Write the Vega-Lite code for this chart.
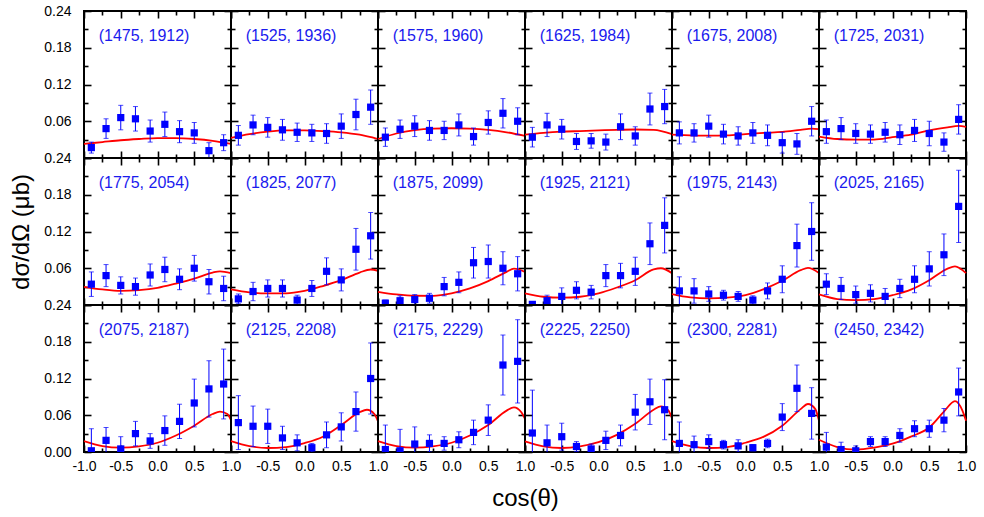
{
"$schema":"https://vega.github.io/schema/vega-lite/v6.json",
"padding":{"left":8,"top":3,"right":5,"bottom":5},
"data":{"values":[
{"p":1,"t":"(1475, 1912)"},{"p":2,"t":"(1525, 1936)"},{"p":3,"t":"(1575, 1960)"},{"p":4,"t":"(1625, 1984)"},{"p":5,"t":"(1675, 2008)"},{"p":6,"t":"(1725, 2031)"},
{"p":7,"t":"(1775, 2054)"},{"p":8,"t":"(1825, 2077)"},{"p":9,"t":"(1875, 2099)"},{"p":10,"t":"(1925, 2121)"},{"p":11,"t":"(1975, 2143)"},{"p":12,"t":"(2025, 2165)"},
{"p":13,"t":"(2075, 2187)"},{"p":14,"t":"(2125, 2208)"},{"p":15,"t":"(2175, 2229)"},{"p":16,"t":"(2225, 2250)"},{"p":17,"t":"(2300, 2281)"},{"p":18,"t":"(2450, 2342)"},
{"p":1,"x":-0.9,"y":0.017,"e":0.009},{"p":1,"x":-0.7,"y":0.048,"e":0.016},{"p":1,"x":-0.5,"y":0.066,"e":0.02},{"p":1,"x":-0.3,"y":0.064,"e":0.02},{"p":1,"x":-0.1,"y":0.044,"e":0.018},{"p":1,"x":0.1,"y":0.055,"e":0.02},{"p":1,"x":0.3,"y":0.043,"e":0.018},{"p":1,"x":0.5,"y":0.041,"e":0.017},{"p":1,"x":0.7,"y":0.012,"e":0.013},{"p":1,"x":0.9,"y":0.025,"e":0.013},
{"p":2,"x":-0.9,"y":0.037,"e":0.016},{"p":2,"x":-0.7,"y":0.054,"e":0.016},{"p":2,"x":-0.5,"y":0.05,"e":0.016},{"p":2,"x":-0.3,"y":0.046,"e":0.017},{"p":2,"x":-0.1,"y":0.042,"e":0.015},{"p":2,"x":0.1,"y":0.041,"e":0.014},{"p":2,"x":0.3,"y":0.04,"e":0.016},{"p":2,"x":0.5,"y":0.052,"e":0.02},{"p":2,"x":0.7,"y":0.071,"e":0.025},{"p":2,"x":0.9,"y":0.083,"e":0.028},
{"p":3,"x":-0.9,"y":0.034,"e":0.015},{"p":3,"x":-0.7,"y":0.047,"e":0.015},{"p":3,"x":-0.5,"y":0.052,"e":0.017},{"p":3,"x":-0.3,"y":0.045,"e":0.016},{"p":3,"x":-0.1,"y":0.045,"e":0.015},{"p":3,"x":0.1,"y":0.054,"e":0.018},{"p":3,"x":0.3,"y":0.035,"e":0.014},{"p":3,"x":0.5,"y":0.058,"e":0.019},{"p":3,"x":0.7,"y":0.073,"e":0.024},{"p":3,"x":0.9,"y":0.06,"e":0.022},
{"p":4,"x":-0.9,"y":0.034,"e":0.016},{"p":4,"x":-0.7,"y":0.054,"e":0.019},{"p":4,"x":-0.5,"y":0.047,"e":0.016},{"p":4,"x":-0.3,"y":0.027,"e":0.013},{"p":4,"x":-0.1,"y":0.028,"e":0.012},{"p":4,"x":0.1,"y":0.026,"e":0.013},{"p":4,"x":0.3,"y":0.051,"e":0.021},{"p":4,"x":0.5,"y":0.036,"e":0.015},{"p":4,"x":0.7,"y":0.08,"e":0.026},{"p":4,"x":0.9,"y":0.084,"e":0.028},
{"p":5,"x":-0.9,"y":0.041,"e":0.018},{"p":5,"x":-0.7,"y":0.041,"e":0.015},{"p":5,"x":-0.5,"y":0.052,"e":0.018},{"p":5,"x":-0.3,"y":0.039,"e":0.016},{"p":5,"x":-0.1,"y":0.036,"e":0.015},{"p":5,"x":0.1,"y":0.041,"e":0.017},{"p":5,"x":0.3,"y":0.037,"e":0.017},{"p":5,"x":0.5,"y":0.025,"e":0.017},{"p":5,"x":0.7,"y":0.023,"e":0.017},{"p":5,"x":0.9,"y":0.06,"e":0.024},
{"p":6,"x":-0.9,"y":0.043,"e":0.019},{"p":6,"x":-0.7,"y":0.048,"e":0.018},{"p":6,"x":-0.5,"y":0.04,"e":0.016},{"p":6,"x":-0.3,"y":0.039,"e":0.015},{"p":6,"x":-0.1,"y":0.042,"e":0.016},{"p":6,"x":0.1,"y":0.038,"e":0.016},{"p":6,"x":0.3,"y":0.045,"e":0.018},{"p":6,"x":0.5,"y":0.04,"e":0.02},{"p":6,"x":0.7,"y":0.026,"e":0.015},{"p":6,"x":0.9,"y":0.063,"e":0.024},
{"p":7,"x":-0.9,"y":0.034,"e":0.02},{"p":7,"x":-0.7,"y":0.048,"e":0.018},{"p":7,"x":-0.5,"y":0.032,"e":0.014},{"p":7,"x":-0.3,"y":0.03,"e":0.014},{"p":7,"x":-0.1,"y":0.049,"e":0.018},{"p":7,"x":0.1,"y":0.058,"e":0.02},{"p":7,"x":0.3,"y":0.042,"e":0.017},{"p":7,"x":0.5,"y":0.06,"e":0.021},{"p":7,"x":0.7,"y":0.038,"e":0.02},{"p":7,"x":0.9,"y":0.027,"e":0.02},
{"p":8,"x":-0.9,"y":0.01,"e":0.008},{"p":8,"x":-0.7,"y":0.022,"e":0.015},{"p":8,"x":-0.5,"y":0.027,"e":0.014},{"p":8,"x":-0.3,"y":0.027,"e":0.014},{"p":8,"x":-0.1,"y":0.008,"e":0.008},{"p":8,"x":0.1,"y":0.027,"e":0.013},{"p":8,"x":0.3,"y":0.055,"e":0.022},{"p":8,"x":0.5,"y":0.041,"e":0.018},{"p":8,"x":0.7,"y":0.091,"e":0.034},{"p":8,"x":0.9,"y":0.113,"e":0.038},
{"p":9,"x":-0.9,"y":0.003,"e":0.005},{"p":9,"x":-0.7,"y":0.007,"e":0.008},{"p":9,"x":-0.5,"y":0.009,"e":0.008},{"p":9,"x":-0.3,"y":0.011,"e":0.008},{"p":9,"x":-0.1,"y":0.03,"e":0.015},{"p":9,"x":0.1,"y":0.037,"e":0.017},{"p":9,"x":0.3,"y":0.069,"e":0.025},{"p":9,"x":0.5,"y":0.071,"e":0.027},{"p":9,"x":0.7,"y":0.06,"e":0.027},{"p":9,"x":0.9,"y":0.051,"e":0.028},
{"p":10,"x":-0.9,"y":0.001,"e":0.004},{"p":10,"x":-0.7,"y":0.007,"e":0.009},{"p":10,"x":-0.5,"y":0.014,"e":0.014},{"p":10,"x":-0.3,"y":0.024,"e":0.014},{"p":10,"x":-0.1,"y":0.021,"e":0.011},{"p":10,"x":0.1,"y":0.048,"e":0.018},{"p":10,"x":0.3,"y":0.048,"e":0.02},{"p":10,"x":0.5,"y":0.055,"e":0.023},{"p":10,"x":0.7,"y":0.1,"e":0.034},{"p":10,"x":0.9,"y":0.13,"e":0.045},
{"p":11,"x":-0.9,"y":0.023,"e":0.023},{"p":11,"x":-0.7,"y":0.023,"e":0.02},{"p":11,"x":-0.5,"y":0.018,"e":0.012},{"p":11,"x":-0.3,"y":0.016,"e":0.008},{"p":11,"x":-0.1,"y":0.014,"e":0.008},{"p":11,"x":0.1,"y":0.008,"e":0.007},{"p":11,"x":0.3,"y":0.023,"e":0.013},{"p":11,"x":0.5,"y":0.042,"e":0.022},{"p":11,"x":0.7,"y":0.097,"e":0.035},{"p":11,"x":0.9,"y":0.12,"e":0.047},
{"p":12,"x":-0.9,"y":0.034,"e":0.017},{"p":12,"x":-0.7,"y":0.027,"e":0.018},{"p":12,"x":-0.5,"y":0.017,"e":0.014},{"p":12,"x":-0.3,"y":0.019,"e":0.014},{"p":12,"x":-0.1,"y":0.014,"e":0.013},{"p":12,"x":0.1,"y":0.027,"e":0.015},{"p":12,"x":0.3,"y":0.042,"e":0.022},{"p":12,"x":0.5,"y":0.059,"e":0.028},{"p":12,"x":0.7,"y":0.082,"e":0.034},{"p":12,"x":0.9,"y":0.161,"e":0.059},
{"p":13,"x":-0.9,"y":0.002,"e":0.036},{"p":13,"x":-0.7,"y":0.019,"e":0.021},{"p":13,"x":-0.5,"y":0.005,"e":0.02},{"p":13,"x":-0.3,"y":0.03,"e":0.02},{"p":13,"x":-0.1,"y":0.018,"e":0.012},{"p":13,"x":0.1,"y":0.035,"e":0.024},{"p":13,"x":0.3,"y":0.05,"e":0.028},{"p":13,"x":0.5,"y":0.08,"e":0.039},{"p":13,"x":0.7,"y":0.103,"e":0.046},{"p":13,"x":0.9,"y":0.111,"e":0.057},
{"p":14,"x":-0.9,"y":0.048,"e":0.044},{"p":14,"x":-0.7,"y":0.042,"e":0.033},{"p":14,"x":-0.5,"y":0.042,"e":0.028},{"p":14,"x":-0.3,"y":0.023,"e":0.019},{"p":14,"x":-0.1,"y":0.015,"e":0.013},{"p":14,"x":0.1,"y":0.007,"e":0.007},{"p":14,"x":0.3,"y":0.028,"e":0.021},{"p":14,"x":0.5,"y":0.041,"e":0.023},{"p":14,"x":0.7,"y":0.066,"e":0.032},{"p":14,"x":0.9,"y":0.12,"e":0.058},
{"p":15,"x":-0.9,"y":0.004,"e":0.04},{"p":15,"x":-0.7,"y":0.002,"e":0.035},{"p":15,"x":-0.5,"y":0.013,"e":0.028},{"p":15,"x":-0.3,"y":0.014,"e":0.014},{"p":15,"x":-0.1,"y":0.014,"e":0.011},{"p":15,"x":0.1,"y":0.02,"e":0.013},{"p":15,"x":0.3,"y":0.032,"e":0.02},{"p":15,"x":0.5,"y":0.052,"e":0.025},{"p":15,"x":0.7,"y":0.142,"e":0.049},{"p":15,"x":0.9,"y":0.148,"e":0.068},
{"p":16,"x":-0.9,"y":0.031,"e":0.07},{"p":16,"x":-0.7,"y":0.015,"e":0.029},{"p":16,"x":-0.5,"y":0.025,"e":0.022},{"p":16,"x":-0.3,"y":0.009,"e":0.008},{"p":16,"x":-0.1,"y":0.005,"e":0.008},{"p":16,"x":0.1,"y":0.019,"e":0.015},{"p":16,"x":0.3,"y":0.027,"e":0.017},{"p":16,"x":0.5,"y":0.065,"e":0.029},{"p":16,"x":0.7,"y":0.082,"e":0.037},{"p":16,"x":0.9,"y":0.069,"e":0.049},
{"p":17,"x":-0.9,"y":0.014,"e":0.035},{"p":17,"x":-0.7,"y":0.012,"e":0.014},{"p":17,"x":-0.5,"y":0.017,"e":0.011},{"p":17,"x":-0.3,"y":0.012,"e":0.007},{"p":17,"x":-0.1,"y":0.01,"e":0.01},{"p":17,"x":0.1,"y":0.007,"e":0.005},{"p":17,"x":0.3,"y":0.014,"e":0.007},{"p":17,"x":0.5,"y":0.057,"e":0.022},{"p":17,"x":0.7,"y":0.104,"e":0.038},{"p":17,"x":0.9,"y":0.063,"e":0.042},
{"p":18,"x":-0.9,"y":0.008,"e":0.024},{"p":18,"x":-0.7,"y":0.004,"e":0.012},{"p":18,"x":-0.5,"y":0.002,"e":0.008},{"p":18,"x":-0.3,"y":0.017,"e":0.008},{"p":18,"x":-0.1,"y":0.017,"e":0.008},{"p":18,"x":0.1,"y":0.027,"e":0.011},{"p":18,"x":0.3,"y":0.038,"e":0.013},{"p":18,"x":0.5,"y":0.038,"e":0.014},{"p":18,"x":0.7,"y":0.052,"e":0.019},{"p":18,"x":0.9,"y":0.098,"e":0.039},
{"p":1,"x":-1,"c":0.023},{"p":1,"x":-0.75,"c":0.026},{"p":1,"x":-0.5,"c":0.029},{"p":1,"x":-0.25,"c":0.031},{"p":1,"x":0,"c":0.0325},{"p":1,"x":0.25,"c":0.0325},{"p":1,"x":0.5,"c":0.031},{"p":1,"x":0.75,"c":0.028},{"p":1,"x":1,"c":0.023},
{"p":2,"x":-1,"c":0.033},{"p":2,"x":-0.75,"c":0.039},{"p":2,"x":-0.5,"c":0.043},{"p":2,"x":-0.25,"c":0.045},{"p":2,"x":0,"c":0.045},{"p":2,"x":0.25,"c":0.044},{"p":2,"x":0.5,"c":0.042},{"p":2,"x":0.75,"c":0.038},{"p":2,"x":1,"c":0.031},
{"p":3,"x":-1,"c":0.031},{"p":3,"x":-0.75,"c":0.04},{"p":3,"x":-0.5,"c":0.0455},{"p":3,"x":-0.25,"c":0.048},{"p":3,"x":0,"c":0.0486},{"p":3,"x":0.25,"c":0.048},{"p":3,"x":0.5,"c":0.046},{"p":3,"x":0.75,"c":0.042},{"p":3,"x":1,"c":0.036},
{"p":4,"x":-1,"c":0.038},{"p":4,"x":-0.75,"c":0.041},{"p":4,"x":-0.5,"c":0.043},{"p":4,"x":-0.25,"c":0.044},{"p":4,"x":0,"c":0.045},{"p":4,"x":0.25,"c":0.046},{"p":4,"x":0.5,"c":0.0465},{"p":4,"x":0.75,"c":0.046},{"p":4,"x":1,"c":0.039},
{"p":5,"x":-1,"c":0.038},{"p":5,"x":-0.75,"c":0.037},{"p":5,"x":-0.5,"c":0.0365},{"p":5,"x":-0.25,"c":0.037},{"p":5,"x":0,"c":0.039},{"p":5,"x":0.25,"c":0.041},{"p":5,"x":0.5,"c":0.0425},{"p":5,"x":0.75,"c":0.046},{"p":5,"x":0.9,"c":0.048},{"p":5,"x":1,"c":0.047},
{"p":6,"x":-1,"c":0.035},{"p":6,"x":-0.75,"c":0.031},{"p":6,"x":-0.5,"c":0.03},{"p":6,"x":-0.25,"c":0.03},{"p":6,"x":0,"c":0.034},{"p":6,"x":0.25,"c":0.038},{"p":6,"x":0.5,"c":0.045},{"p":6,"x":0.75,"c":0.05},{"p":6,"x":0.9,"c":0.0524},{"p":6,"x":1,"c":0.051},
{"p":7,"x":-1,"c":0.0297},{"p":7,"x":-0.75,"c":0.0254},{"p":7,"x":-0.5,"c":0.023},{"p":7,"x":-0.25,"c":0.0243},{"p":7,"x":0,"c":0.028},{"p":7,"x":0.25,"c":0.035},{"p":7,"x":0.5,"c":0.043},{"p":7,"x":0.75,"c":0.053},{"p":7,"x":0.85,"c":0.055},{"p":7,"x":1,"c":0.052},
{"p":8,"x":-1,"c":0.0254},{"p":8,"x":-0.75,"c":0.0205},{"p":8,"x":-0.5,"c":0.019},{"p":8,"x":-0.25,"c":0.019},{"p":8,"x":0,"c":0.023},{"p":8,"x":0.25,"c":0.031},{"p":8,"x":0.5,"c":0.0405},{"p":8,"x":0.75,"c":0.053},{"p":8,"x":0.9,"c":0.058},{"p":8,"x":1,"c":0.0557},
{"p":9,"x":-1,"c":0.0216},{"p":9,"x":-0.75,"c":0.0173},{"p":9,"x":-0.5,"c":0.0151},{"p":9,"x":-0.25,"c":0.015},{"p":9,"x":0,"c":0.019},{"p":9,"x":0.25,"c":0.027},{"p":9,"x":0.5,"c":0.039},{"p":9,"x":0.75,"c":0.054},{"p":9,"x":0.85,"c":0.0595},{"p":9,"x":1,"c":0.054},
{"p":10,"x":-1,"c":0.019},{"p":10,"x":-0.75,"c":0.0135},{"p":10,"x":-0.5,"c":0.0119},{"p":10,"x":-0.25,"c":0.0135},{"p":10,"x":0,"c":0.019},{"p":10,"x":0.25,"c":0.0286},{"p":10,"x":0.5,"c":0.0405},{"p":10,"x":0.75,"c":0.058},{"p":10,"x":0.85,"c":0.06},{"p":10,"x":1,"c":0.052},
{"p":11,"x":-1,"c":0.0178},{"p":11,"x":-0.75,"c":0.0124},{"p":11,"x":-0.5,"c":0.0108},{"p":11,"x":-0.25,"c":0.0119},{"p":11,"x":0,"c":0.016},{"p":11,"x":0.25,"c":0.026},{"p":11,"x":0.5,"c":0.0395},{"p":11,"x":0.75,"c":0.0568},{"p":11,"x":0.85,"c":0.0605},{"p":11,"x":1,"c":0.0524},
{"p":12,"x":-1,"c":0.0173},{"p":12,"x":-0.75,"c":0.0097},{"p":12,"x":-0.5,"c":0.008},{"p":12,"x":-0.25,"c":0.0097},{"p":12,"x":0,"c":0.016},{"p":12,"x":0.25,"c":0.025},{"p":12,"x":0.5,"c":0.0405},{"p":12,"x":0.75,"c":0.0595},{"p":12,"x":0.85,"c":0.063},{"p":12,"x":1,"c":0.052},
{"p":13,"x":-1,"c":0.0178},{"p":13,"x":-0.75,"c":0.0097},{"p":13,"x":-0.5,"c":0.007},{"p":13,"x":-0.25,"c":0.0092},{"p":13,"x":0,"c":0.0151},{"p":13,"x":0.25,"c":0.027},{"p":13,"x":0.5,"c":0.043},{"p":13,"x":0.75,"c":0.062},{"p":13,"x":0.85,"c":0.066},{"p":13,"x":0.95,"c":0.062},{"p":13,"x":1,"c":0.052},
{"p":14,"x":-1,"c":0.0178},{"p":14,"x":-0.75,"c":0.0097},{"p":14,"x":-0.5,"c":0.0065},{"p":14,"x":-0.25,"c":0.008},{"p":14,"x":0,"c":0.0146},{"p":14,"x":0.25,"c":0.025},{"p":14,"x":0.5,"c":0.044},{"p":14,"x":0.75,"c":0.065},{"p":14,"x":0.85,"c":0.069},{"p":14,"x":0.95,"c":0.062},{"p":14,"x":1,"c":0.05},
{"p":15,"x":-1,"c":0.0178},{"p":15,"x":-0.75,"c":0.0097},{"p":15,"x":-0.5,"c":0.007},{"p":15,"x":-0.25,"c":0.0092},{"p":15,"x":0,"c":0.0151},{"p":15,"x":0.25,"c":0.027},{"p":15,"x":0.5,"c":0.044},{"p":15,"x":0.75,"c":0.0676},{"p":15,"x":0.85,"c":0.073},{"p":15,"x":0.95,"c":0.065},{"p":15,"x":1,"c":0.054},
{"p":16,"x":-1,"c":0.0173},{"p":16,"x":-0.75,"c":0.0092},{"p":16,"x":-0.5,"c":0.0065},{"p":16,"x":-0.25,"c":0.0092},{"p":16,"x":0,"c":0.016},{"p":16,"x":0.25,"c":0.028},{"p":16,"x":0.5,"c":0.046},{"p":16,"x":0.75,"c":0.069},{"p":16,"x":0.85,"c":0.0746},{"p":16,"x":0.95,"c":0.068},{"p":16,"x":1,"c":0.055},
{"p":17,"x":-1,"c":0.0178},{"p":17,"x":-0.75,"c":0.0097},{"p":17,"x":-0.5,"c":0.0065},{"p":17,"x":-0.25,"c":0.008},{"p":17,"x":0,"c":0.0151},{"p":17,"x":0.25,"c":0.025},{"p":17,"x":0.5,"c":0.043},{"p":17,"x":0.75,"c":0.07},{"p":17,"x":0.85,"c":0.0784},{"p":17,"x":0.95,"c":0.07},{"p":17,"x":1,"c":0.051},
{"p":18,"x":-1,"c":0.02},{"p":18,"x":-0.75,"c":0.008},{"p":18,"x":-0.5,"c":0.0038},{"p":18,"x":-0.25,"c":0.007},{"p":18,"x":0,"c":0.0135},{"p":18,"x":0.25,"c":0.025},{"p":18,"x":0.5,"c":0.04},{"p":18,"x":0.7,"c":0.066},{"p":18,"x":0.85,"c":0.083},{"p":18,"x":0.95,"c":0.068},{"p":18,"x":1,"c":0.051}
]},
"columns":6,"spacing":0,"bounds":"flush","align":"all",
"concat":[
{"transform":[{"filter":"datum.p==1"}],"resolve":{"axis":{"x":"independent","y":"independent"}},"layer":[
{"mark":"line","encoding":{"x":{"field":"x","type":"quantitative","scale":{"domain":[-1,1],"nice":false},"axis":{"values":[-1,-0.75,-0.5,-0.25,0,0.25,0.5,0.75,1],"labels":false,"title":null}},"y":{"field":"c","type":"quantitative","scale":{"domain":[0,0.24],"nice":false},"axis":{"values":[0,0.03,0.06,0.09,0.12,0.15,0.18,0.21,0.24],"title":null,"labelExpr":"round(datum.value*100)%6==0 && datum.value>0 ? format(datum.value,'.2f') : ''"}}}},
{"mark":{"type":"errorbar","clip":true},"encoding":{"x":{"field":"x","type":"quantitative","axis":null},"y":{"field":"y","type":"quantitative","axis":null},"yError":{"field":"e"}}},
{"mark":{"type":"square","clip":true},"encoding":{"x":{"field":"x","type":"quantitative","axis":{"orient":"top","values":[-1,-0.75,-0.5,-0.25,0,0.25,0.5,0.75,1],"labels":false,"title":null}},"y":{"field":"y","type":"quantitative","axis":{"orient":"right","values":[0,0.03,0.06,0.09,0.12,0.15,0.18,0.21,0.24],"labels":false,"title":null}}}},
{"mark":"text","transform":[{"filter":"datum.t"}],"encoding":{"x":{"datum":-0.8,"axis":null},"y":{"datum":0.2,"axis":null},"text":{"field":"t"}}}]},
{"transform":[{"filter":"datum.p==2"}],"resolve":{"axis":{"x":"independent","y":"independent"}},"layer":[
{"mark":"line","encoding":{"x":{"field":"x","type":"quantitative","scale":{"domain":[-1,1],"nice":false},"axis":{"values":[-1,-0.75,-0.5,-0.25,0,0.25,0.5,0.75,1],"labels":false,"title":null}},"y":{"field":"c","type":"quantitative","scale":{"domain":[0,0.24],"nice":false},"axis":{"values":[0,0.03,0.06,0.09,0.12,0.15,0.18,0.21,0.24],"labels":false,"title":null}}}},
{"mark":{"type":"errorbar","clip":true},"encoding":{"x":{"field":"x","type":"quantitative","axis":null},"y":{"field":"y","type":"quantitative","axis":null},"yError":{"field":"e"}}},
{"mark":{"type":"square","clip":true},"encoding":{"x":{"field":"x","type":"quantitative","axis":{"orient":"top","values":[-1,-0.75,-0.5,-0.25,0,0.25,0.5,0.75,1],"labels":false,"title":null}},"y":{"field":"y","type":"quantitative","axis":{"orient":"right","values":[0,0.03,0.06,0.09,0.12,0.15,0.18,0.21,0.24],"labels":false,"title":null}}}},
{"mark":"text","transform":[{"filter":"datum.t"}],"encoding":{"x":{"datum":-0.8,"axis":null},"y":{"datum":0.2,"axis":null},"text":{"field":"t"}}}]},
{"transform":[{"filter":"datum.p==3"}],"resolve":{"axis":{"x":"independent","y":"independent"}},"layer":[
{"mark":"line","encoding":{"x":{"field":"x","type":"quantitative","scale":{"domain":[-1,1],"nice":false},"axis":{"values":[-1,-0.75,-0.5,-0.25,0,0.25,0.5,0.75,1],"labels":false,"title":null}},"y":{"field":"c","type":"quantitative","scale":{"domain":[0,0.24],"nice":false},"axis":{"values":[0,0.03,0.06,0.09,0.12,0.15,0.18,0.21,0.24],"labels":false,"title":null}}}},
{"mark":{"type":"errorbar","clip":true},"encoding":{"x":{"field":"x","type":"quantitative","axis":null},"y":{"field":"y","type":"quantitative","axis":null},"yError":{"field":"e"}}},
{"mark":{"type":"square","clip":true},"encoding":{"x":{"field":"x","type":"quantitative","axis":{"orient":"top","values":[-1,-0.75,-0.5,-0.25,0,0.25,0.5,0.75,1],"labels":false,"title":null}},"y":{"field":"y","type":"quantitative","axis":{"orient":"right","values":[0,0.03,0.06,0.09,0.12,0.15,0.18,0.21,0.24],"labels":false,"title":null}}}},
{"mark":"text","transform":[{"filter":"datum.t"}],"encoding":{"x":{"datum":-0.8,"axis":null},"y":{"datum":0.2,"axis":null},"text":{"field":"t"}}}]},
{"transform":[{"filter":"datum.p==4"}],"resolve":{"axis":{"x":"independent","y":"independent"}},"layer":[
{"mark":"line","encoding":{"x":{"field":"x","type":"quantitative","scale":{"domain":[-1,1],"nice":false},"axis":{"values":[-1,-0.75,-0.5,-0.25,0,0.25,0.5,0.75,1],"labels":false,"title":null}},"y":{"field":"c","type":"quantitative","scale":{"domain":[0,0.24],"nice":false},"axis":{"values":[0,0.03,0.06,0.09,0.12,0.15,0.18,0.21,0.24],"labels":false,"title":null}}}},
{"mark":{"type":"errorbar","clip":true},"encoding":{"x":{"field":"x","type":"quantitative","axis":null},"y":{"field":"y","type":"quantitative","axis":null},"yError":{"field":"e"}}},
{"mark":{"type":"square","clip":true},"encoding":{"x":{"field":"x","type":"quantitative","axis":{"orient":"top","values":[-1,-0.75,-0.5,-0.25,0,0.25,0.5,0.75,1],"labels":false,"title":null}},"y":{"field":"y","type":"quantitative","axis":{"orient":"right","values":[0,0.03,0.06,0.09,0.12,0.15,0.18,0.21,0.24],"labels":false,"title":null}}}},
{"mark":"text","transform":[{"filter":"datum.t"}],"encoding":{"x":{"datum":-0.8,"axis":null},"y":{"datum":0.2,"axis":null},"text":{"field":"t"}}}]},
{"transform":[{"filter":"datum.p==5"}],"resolve":{"axis":{"x":"independent","y":"independent"}},"layer":[
{"mark":"line","encoding":{"x":{"field":"x","type":"quantitative","scale":{"domain":[-1,1],"nice":false},"axis":{"values":[-1,-0.75,-0.5,-0.25,0,0.25,0.5,0.75,1],"labels":false,"title":null}},"y":{"field":"c","type":"quantitative","scale":{"domain":[0,0.24],"nice":false},"axis":{"values":[0,0.03,0.06,0.09,0.12,0.15,0.18,0.21,0.24],"labels":false,"title":null}}}},
{"mark":{"type":"errorbar","clip":true},"encoding":{"x":{"field":"x","type":"quantitative","axis":null},"y":{"field":"y","type":"quantitative","axis":null},"yError":{"field":"e"}}},
{"mark":{"type":"square","clip":true},"encoding":{"x":{"field":"x","type":"quantitative","axis":{"orient":"top","values":[-1,-0.75,-0.5,-0.25,0,0.25,0.5,0.75,1],"labels":false,"title":null}},"y":{"field":"y","type":"quantitative","axis":{"orient":"right","values":[0,0.03,0.06,0.09,0.12,0.15,0.18,0.21,0.24],"labels":false,"title":null}}}},
{"mark":"text","transform":[{"filter":"datum.t"}],"encoding":{"x":{"datum":-0.8,"axis":null},"y":{"datum":0.2,"axis":null},"text":{"field":"t"}}}]},
{"transform":[{"filter":"datum.p==6"}],"resolve":{"axis":{"x":"independent","y":"independent"}},"layer":[
{"mark":"line","encoding":{"x":{"field":"x","type":"quantitative","scale":{"domain":[-1,1],"nice":false},"axis":{"values":[-1,-0.75,-0.5,-0.25,0,0.25,0.5,0.75,1],"labels":false,"title":null}},"y":{"field":"c","type":"quantitative","scale":{"domain":[0,0.24],"nice":false},"axis":{"values":[0,0.03,0.06,0.09,0.12,0.15,0.18,0.21,0.24],"labels":false,"title":null}}}},
{"mark":{"type":"errorbar","clip":true},"encoding":{"x":{"field":"x","type":"quantitative","axis":null},"y":{"field":"y","type":"quantitative","axis":null},"yError":{"field":"e"}}},
{"mark":{"type":"square","clip":true},"encoding":{"x":{"field":"x","type":"quantitative","axis":{"orient":"top","values":[-1,-0.75,-0.5,-0.25,0,0.25,0.5,0.75,1],"labels":false,"title":null}},"y":{"field":"y","type":"quantitative","axis":{"orient":"right","values":[0,0.03,0.06,0.09,0.12,0.15,0.18,0.21,0.24],"labels":false,"title":null}}}},
{"mark":"text","transform":[{"filter":"datum.t"}],"encoding":{"x":{"datum":-0.8,"axis":null},"y":{"datum":0.2,"axis":null},"text":{"field":"t"}}}]},
{"transform":[{"filter":"datum.p==7"}],"resolve":{"axis":{"x":"independent","y":"independent"}},"layer":[
{"mark":"line","encoding":{"x":{"field":"x","type":"quantitative","scale":{"domain":[-1,1],"nice":false},"axis":{"values":[-1,-0.75,-0.5,-0.25,0,0.25,0.5,0.75,1],"labels":false,"title":null}},"y":{"field":"c","type":"quantitative","scale":{"domain":[0,0.24],"nice":false},"axis":{"values":[0,0.03,0.06,0.09,0.12,0.15,0.18,0.21,0.24],"title":"dσ/dΩ (μb)","titlePadding":10,"labelExpr":"round(datum.value*100)%6==0 && datum.value>0 ? format(datum.value,'.2f') : ''"}}}},
{"mark":{"type":"errorbar","clip":true},"encoding":{"x":{"field":"x","type":"quantitative","axis":null},"y":{"field":"y","type":"quantitative","axis":null},"yError":{"field":"e"}}},
{"mark":{"type":"square","clip":true},"encoding":{"x":{"field":"x","type":"quantitative","axis":{"orient":"top","values":[-1,-0.75,-0.5,-0.25,0,0.25,0.5,0.75,1],"labels":false,"title":null}},"y":{"field":"y","type":"quantitative","axis":{"orient":"right","values":[0,0.03,0.06,0.09,0.12,0.15,0.18,0.21,0.24],"labels":false,"title":null}}}},
{"mark":"text","transform":[{"filter":"datum.t"}],"encoding":{"x":{"datum":-0.8,"axis":null},"y":{"datum":0.2,"axis":null},"text":{"field":"t"}}}]},
{"transform":[{"filter":"datum.p==8"}],"resolve":{"axis":{"x":"independent","y":"independent"}},"layer":[
{"mark":"line","encoding":{"x":{"field":"x","type":"quantitative","scale":{"domain":[-1,1],"nice":false},"axis":{"values":[-1,-0.75,-0.5,-0.25,0,0.25,0.5,0.75,1],"labels":false,"title":null}},"y":{"field":"c","type":"quantitative","scale":{"domain":[0,0.24],"nice":false},"axis":{"values":[0,0.03,0.06,0.09,0.12,0.15,0.18,0.21,0.24],"labels":false,"title":null}}}},
{"mark":{"type":"errorbar","clip":true},"encoding":{"x":{"field":"x","type":"quantitative","axis":null},"y":{"field":"y","type":"quantitative","axis":null},"yError":{"field":"e"}}},
{"mark":{"type":"square","clip":true},"encoding":{"x":{"field":"x","type":"quantitative","axis":{"orient":"top","values":[-1,-0.75,-0.5,-0.25,0,0.25,0.5,0.75,1],"labels":false,"title":null}},"y":{"field":"y","type":"quantitative","axis":{"orient":"right","values":[0,0.03,0.06,0.09,0.12,0.15,0.18,0.21,0.24],"labels":false,"title":null}}}},
{"mark":"text","transform":[{"filter":"datum.t"}],"encoding":{"x":{"datum":-0.8,"axis":null},"y":{"datum":0.2,"axis":null},"text":{"field":"t"}}}]},
{"transform":[{"filter":"datum.p==9"}],"resolve":{"axis":{"x":"independent","y":"independent"}},"layer":[
{"mark":"line","encoding":{"x":{"field":"x","type":"quantitative","scale":{"domain":[-1,1],"nice":false},"axis":{"values":[-1,-0.75,-0.5,-0.25,0,0.25,0.5,0.75,1],"labels":false,"title":null}},"y":{"field":"c","type":"quantitative","scale":{"domain":[0,0.24],"nice":false},"axis":{"values":[0,0.03,0.06,0.09,0.12,0.15,0.18,0.21,0.24],"labels":false,"title":null}}}},
{"mark":{"type":"errorbar","clip":true},"encoding":{"x":{"field":"x","type":"quantitative","axis":null},"y":{"field":"y","type":"quantitative","axis":null},"yError":{"field":"e"}}},
{"mark":{"type":"square","clip":true},"encoding":{"x":{"field":"x","type":"quantitative","axis":{"orient":"top","values":[-1,-0.75,-0.5,-0.25,0,0.25,0.5,0.75,1],"labels":false,"title":null}},"y":{"field":"y","type":"quantitative","axis":{"orient":"right","values":[0,0.03,0.06,0.09,0.12,0.15,0.18,0.21,0.24],"labels":false,"title":null}}}},
{"mark":"text","transform":[{"filter":"datum.t"}],"encoding":{"x":{"datum":-0.8,"axis":null},"y":{"datum":0.2,"axis":null},"text":{"field":"t"}}}]},
{"transform":[{"filter":"datum.p==10"}],"resolve":{"axis":{"x":"independent","y":"independent"}},"layer":[
{"mark":"line","encoding":{"x":{"field":"x","type":"quantitative","scale":{"domain":[-1,1],"nice":false},"axis":{"values":[-1,-0.75,-0.5,-0.25,0,0.25,0.5,0.75,1],"labels":false,"title":null}},"y":{"field":"c","type":"quantitative","scale":{"domain":[0,0.24],"nice":false},"axis":{"values":[0,0.03,0.06,0.09,0.12,0.15,0.18,0.21,0.24],"labels":false,"title":null}}}},
{"mark":{"type":"errorbar","clip":true},"encoding":{"x":{"field":"x","type":"quantitative","axis":null},"y":{"field":"y","type":"quantitative","axis":null},"yError":{"field":"e"}}},
{"mark":{"type":"square","clip":true},"encoding":{"x":{"field":"x","type":"quantitative","axis":{"orient":"top","values":[-1,-0.75,-0.5,-0.25,0,0.25,0.5,0.75,1],"labels":false,"title":null}},"y":{"field":"y","type":"quantitative","axis":{"orient":"right","values":[0,0.03,0.06,0.09,0.12,0.15,0.18,0.21,0.24],"labels":false,"title":null}}}},
{"mark":"text","transform":[{"filter":"datum.t"}],"encoding":{"x":{"datum":-0.8,"axis":null},"y":{"datum":0.2,"axis":null},"text":{"field":"t"}}}]},
{"transform":[{"filter":"datum.p==11"}],"resolve":{"axis":{"x":"independent","y":"independent"}},"layer":[
{"mark":"line","encoding":{"x":{"field":"x","type":"quantitative","scale":{"domain":[-1,1],"nice":false},"axis":{"values":[-1,-0.75,-0.5,-0.25,0,0.25,0.5,0.75,1],"labels":false,"title":null}},"y":{"field":"c","type":"quantitative","scale":{"domain":[0,0.24],"nice":false},"axis":{"values":[0,0.03,0.06,0.09,0.12,0.15,0.18,0.21,0.24],"labels":false,"title":null}}}},
{"mark":{"type":"errorbar","clip":true},"encoding":{"x":{"field":"x","type":"quantitative","axis":null},"y":{"field":"y","type":"quantitative","axis":null},"yError":{"field":"e"}}},
{"mark":{"type":"square","clip":true},"encoding":{"x":{"field":"x","type":"quantitative","axis":{"orient":"top","values":[-1,-0.75,-0.5,-0.25,0,0.25,0.5,0.75,1],"labels":false,"title":null}},"y":{"field":"y","type":"quantitative","axis":{"orient":"right","values":[0,0.03,0.06,0.09,0.12,0.15,0.18,0.21,0.24],"labels":false,"title":null}}}},
{"mark":"text","transform":[{"filter":"datum.t"}],"encoding":{"x":{"datum":-0.8,"axis":null},"y":{"datum":0.2,"axis":null},"text":{"field":"t"}}}]},
{"transform":[{"filter":"datum.p==12"}],"resolve":{"axis":{"x":"independent","y":"independent"}},"layer":[
{"mark":"line","encoding":{"x":{"field":"x","type":"quantitative","scale":{"domain":[-1,1],"nice":false},"axis":{"values":[-1,-0.75,-0.5,-0.25,0,0.25,0.5,0.75,1],"labels":false,"title":null}},"y":{"field":"c","type":"quantitative","scale":{"domain":[0,0.24],"nice":false},"axis":{"values":[0,0.03,0.06,0.09,0.12,0.15,0.18,0.21,0.24],"labels":false,"title":null}}}},
{"mark":{"type":"errorbar","clip":true},"encoding":{"x":{"field":"x","type":"quantitative","axis":null},"y":{"field":"y","type":"quantitative","axis":null},"yError":{"field":"e"}}},
{"mark":{"type":"square","clip":true},"encoding":{"x":{"field":"x","type":"quantitative","axis":{"orient":"top","values":[-1,-0.75,-0.5,-0.25,0,0.25,0.5,0.75,1],"labels":false,"title":null}},"y":{"field":"y","type":"quantitative","axis":{"orient":"right","values":[0,0.03,0.06,0.09,0.12,0.15,0.18,0.21,0.24],"labels":false,"title":null}}}},
{"mark":"text","transform":[{"filter":"datum.t"}],"encoding":{"x":{"datum":-0.8,"axis":null},"y":{"datum":0.2,"axis":null},"text":{"field":"t"}}}]},
{"transform":[{"filter":"datum.p==13"}],"resolve":{"axis":{"x":"independent","y":"independent"}},"layer":[
{"mark":"line","encoding":{"x":{"field":"x","type":"quantitative","scale":{"domain":[-1,1],"nice":false},"axis":{"values":[-1,-0.75,-0.5,-0.25,0,0.25,0.5,0.75,1],"title":null,"labelExpr":"round(datum.value*4)%2==0 ? replace(format(datum.value,'.1f'),'\u2212','-') : ''"}},"y":{"field":"c","type":"quantitative","scale":{"domain":[0,0.24],"nice":false},"axis":{"values":[0,0.03,0.06,0.09,0.12,0.15,0.18,0.21,0.24],"title":null,"labelExpr":"round(datum.value*100)%6==0 ? format(datum.value,'.2f') : ''"}}}},
{"mark":{"type":"errorbar","clip":true},"encoding":{"x":{"field":"x","type":"quantitative","axis":null},"y":{"field":"y","type":"quantitative","axis":null},"yError":{"field":"e"}}},
{"mark":{"type":"square","clip":true},"encoding":{"x":{"field":"x","type":"quantitative","axis":{"orient":"top","values":[-1,-0.75,-0.5,-0.25,0,0.25,0.5,0.75,1],"labels":false,"title":null}},"y":{"field":"y","type":"quantitative","axis":{"orient":"right","values":[0,0.03,0.06,0.09,0.12,0.15,0.18,0.21,0.24],"labels":false,"title":null}}}},
{"mark":"text","transform":[{"filter":"datum.t"}],"encoding":{"x":{"datum":-0.8,"axis":null},"y":{"datum":0.2,"axis":null},"text":{"field":"t"}}}]},
{"transform":[{"filter":"datum.p==14"}],"resolve":{"axis":{"x":"independent","y":"independent"}},"layer":[
{"mark":"line","encoding":{"x":{"field":"x","type":"quantitative","scale":{"domain":[-1,1],"nice":false},"axis":{"values":[-1,-0.75,-0.5,-0.25,0,0.25,0.5,0.75,1],"title":null,"labelExpr":"round(datum.value*4)%2==0 && datum.value>-1 ? replace(format(datum.value,'.1f'),'\u2212','-') : ''"}},"y":{"field":"c","type":"quantitative","scale":{"domain":[0,0.24],"nice":false},"axis":{"values":[0,0.03,0.06,0.09,0.12,0.15,0.18,0.21,0.24],"labels":false,"title":null}}}},
{"mark":{"type":"errorbar","clip":true},"encoding":{"x":{"field":"x","type":"quantitative","axis":null},"y":{"field":"y","type":"quantitative","axis":null},"yError":{"field":"e"}}},
{"mark":{"type":"square","clip":true},"encoding":{"x":{"field":"x","type":"quantitative","axis":{"orient":"top","values":[-1,-0.75,-0.5,-0.25,0,0.25,0.5,0.75,1],"labels":false,"title":null}},"y":{"field":"y","type":"quantitative","axis":{"orient":"right","values":[0,0.03,0.06,0.09,0.12,0.15,0.18,0.21,0.24],"labels":false,"title":null}}}},
{"mark":"text","transform":[{"filter":"datum.t"}],"encoding":{"x":{"datum":-0.8,"axis":null},"y":{"datum":0.2,"axis":null},"text":{"field":"t"}}}]},
{"transform":[{"filter":"datum.p==15"}],"resolve":{"axis":{"x":"independent","y":"independent"}},"layer":[
{"mark":"line","encoding":{"x":{"field":"x","type":"quantitative","scale":{"domain":[-1,1],"nice":false},"axis":{"values":[-1,-0.75,-0.5,-0.25,0,0.25,0.5,0.75,1],"title":null,"labelExpr":"round(datum.value*4)%2==0 && datum.value>-1 ? replace(format(datum.value,'.1f'),'\u2212','-') : ''"}},"y":{"field":"c","type":"quantitative","scale":{"domain":[0,0.24],"nice":false},"axis":{"values":[0,0.03,0.06,0.09,0.12,0.15,0.18,0.21,0.24],"labels":false,"title":null}}}},
{"mark":{"type":"errorbar","clip":true},"encoding":{"x":{"field":"x","type":"quantitative","axis":null},"y":{"field":"y","type":"quantitative","axis":null},"yError":{"field":"e"}}},
{"mark":{"type":"square","clip":true},"encoding":{"x":{"field":"x","type":"quantitative","axis":{"orient":"top","values":[-1,-0.75,-0.5,-0.25,0,0.25,0.5,0.75,1],"labels":false,"title":null}},"y":{"field":"y","type":"quantitative","axis":{"orient":"right","values":[0,0.03,0.06,0.09,0.12,0.15,0.18,0.21,0.24],"labels":false,"title":null}}}},
{"mark":"text","transform":[{"filter":"datum.t"}],"encoding":{"x":{"datum":-0.8,"axis":null},"y":{"datum":0.2,"axis":null},"text":{"field":"t"}}}]},
{"transform":[{"filter":"datum.p==16"}],"resolve":{"axis":{"x":"independent","y":"independent"}},"layer":[
{"mark":"line","encoding":{"x":{"field":"x","type":"quantitative","scale":{"domain":[-1,1],"nice":false},"axis":{"values":[-1,-0.75,-0.5,-0.25,0,0.25,0.5,0.75,1],"title":"cos(θ)","titleX":0,"titleAlign":"center","titlePadding":10,"labelExpr":"round(datum.value*4)%2==0 && datum.value>-1 ? replace(format(datum.value,'.1f'),'\u2212','-') : ''"}},"y":{"field":"c","type":"quantitative","scale":{"domain":[0,0.24],"nice":false},"axis":{"values":[0,0.03,0.06,0.09,0.12,0.15,0.18,0.21,0.24],"labels":false,"title":null}}}},
{"mark":{"type":"errorbar","clip":true},"encoding":{"x":{"field":"x","type":"quantitative","axis":null},"y":{"field":"y","type":"quantitative","axis":null},"yError":{"field":"e"}}},
{"mark":{"type":"square","clip":true},"encoding":{"x":{"field":"x","type":"quantitative","axis":{"orient":"top","values":[-1,-0.75,-0.5,-0.25,0,0.25,0.5,0.75,1],"labels":false,"title":null}},"y":{"field":"y","type":"quantitative","axis":{"orient":"right","values":[0,0.03,0.06,0.09,0.12,0.15,0.18,0.21,0.24],"labels":false,"title":null}}}},
{"mark":"text","transform":[{"filter":"datum.t"}],"encoding":{"x":{"datum":-0.8,"axis":null},"y":{"datum":0.2,"axis":null},"text":{"field":"t"}}}]},
{"transform":[{"filter":"datum.p==17"}],"resolve":{"axis":{"x":"independent","y":"independent"}},"layer":[
{"mark":"line","encoding":{"x":{"field":"x","type":"quantitative","scale":{"domain":[-1,1],"nice":false},"axis":{"values":[-1,-0.75,-0.5,-0.25,0,0.25,0.5,0.75,1],"title":null,"labelExpr":"round(datum.value*4)%2==0 && datum.value>-1 ? replace(format(datum.value,'.1f'),'\u2212','-') : ''"}},"y":{"field":"c","type":"quantitative","scale":{"domain":[0,0.24],"nice":false},"axis":{"values":[0,0.03,0.06,0.09,0.12,0.15,0.18,0.21,0.24],"labels":false,"title":null}}}},
{"mark":{"type":"errorbar","clip":true},"encoding":{"x":{"field":"x","type":"quantitative","axis":null},"y":{"field":"y","type":"quantitative","axis":null},"yError":{"field":"e"}}},
{"mark":{"type":"square","clip":true},"encoding":{"x":{"field":"x","type":"quantitative","axis":{"orient":"top","values":[-1,-0.75,-0.5,-0.25,0,0.25,0.5,0.75,1],"labels":false,"title":null}},"y":{"field":"y","type":"quantitative","axis":{"orient":"right","values":[0,0.03,0.06,0.09,0.12,0.15,0.18,0.21,0.24],"labels":false,"title":null}}}},
{"mark":"text","transform":[{"filter":"datum.t"}],"encoding":{"x":{"datum":-0.8,"axis":null},"y":{"datum":0.2,"axis":null},"text":{"field":"t"}}}]},
{"transform":[{"filter":"datum.p==18"}],"resolve":{"axis":{"x":"independent","y":"independent"}},"layer":[
{"mark":"line","encoding":{"x":{"field":"x","type":"quantitative","scale":{"domain":[-1,1],"nice":false},"axis":{"values":[-1,-0.75,-0.5,-0.25,0,0.25,0.5,0.75,1],"title":null,"labelExpr":"round(datum.value*4)%2==0 && datum.value>-1 ? replace(format(datum.value,'.1f'),'\u2212','-') : ''"}},"y":{"field":"c","type":"quantitative","scale":{"domain":[0,0.24],"nice":false},"axis":{"values":[0,0.03,0.06,0.09,0.12,0.15,0.18,0.21,0.24],"labels":false,"title":null}}}},
{"mark":{"type":"errorbar","clip":true},"encoding":{"x":{"field":"x","type":"quantitative","axis":null},"y":{"field":"y","type":"quantitative","axis":null},"yError":{"field":"e"}}},
{"mark":{"type":"square","clip":true},"encoding":{"x":{"field":"x","type":"quantitative","axis":{"orient":"top","values":[-1,-0.75,-0.5,-0.25,0,0.25,0.5,0.75,1],"labels":false,"title":null}},"y":{"field":"y","type":"quantitative","axis":{"orient":"right","values":[0,0.03,0.06,0.09,0.12,0.15,0.18,0.21,0.24],"labels":false,"title":null}}}},
{"mark":"text","transform":[{"filter":"datum.t"}],"encoding":{"x":{"datum":-0.8,"axis":null},"y":{"datum":0.2,"axis":null},"text":{"field":"t"}}}]}
],
"config":{
"font":"Liberation Sans",
"view":{"continuousWidth":147,"continuousHeight":147,"stroke":"#000000","strokeWidth":2},
"axis":{"domain":false,"grid":false,"tickColor":"#000000","tickWidth":1.6,"labelFont":"Liberation Sans","labelFontSize":14,"labelColor":"#000000","labelFlush":false,"labelOverlap":false,"titleFont":"Liberation Sans","titleFontSize":24,"titleFontWeight":"normal","titleColor":"#000000"},
"axisX":{"tickSize":{"condition":{"test":"round(datum.value*4)%2==0","value":-7},"value":-4},"labelPadding":14},
"axisY":{"tickSize":{"condition":{"test":"round(datum.value*100)%6==0","value":-7},"value":-4},"labelPadding":20},
"mark":{"invalid":"filter"},
"line":{"color":"#ff0000","strokeWidth":1.8,"interpolate":"monotone","invalid":"filter"},
"square":{"color":"#0000ff","size":52,"opacity":1},
"errorbar":{"size":8,"thickness":1.9,"ticks":{"color":"#0000ff"},"rule":{"color":"#0000ff"}},
"text":{"color":"#1a1aee","fontSize":16,"align":"left","baseline":"middle","font":"Liberation Sans"}
}
}
